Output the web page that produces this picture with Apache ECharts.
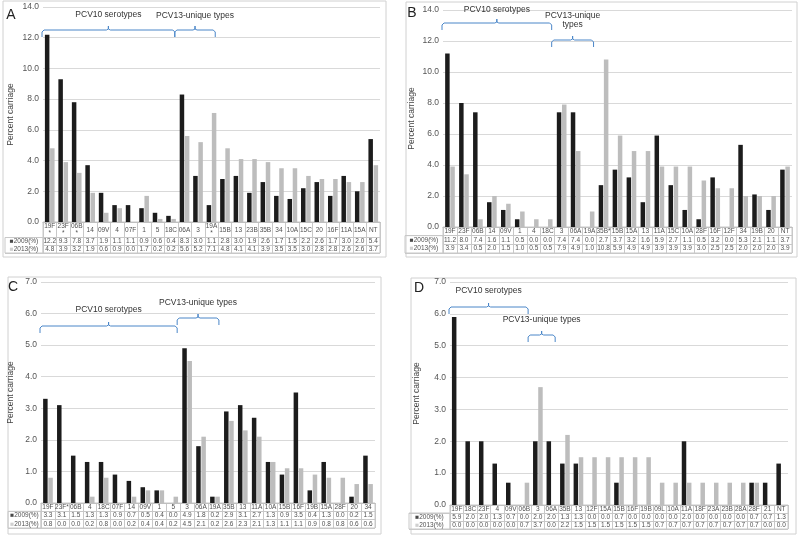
<!DOCTYPE html>
<html><head><meta charset="utf-8">
<script src="https://cdn.jsdelivr.net/npm/echarts@6/dist/echarts.min.js"></script>
<style>html,body{margin:0;padding:0;background:#fff}#c{width:800px;height:536px}</style>
</head><body><div id="c"></div>
<script>
const seriesNames = ['2009(%)', '2013(%)'];
const catsA = ['19F*','23F*','06B*','14','09V','4','07F','1','5','18C','06A','3','19A*','15B','13','23B','35B','34','10A','15C','20','16F','11A','15A','NT'];
const a2009 = [12.2,9.3,7.8,3.7,1.9,1.1,1.1,0.9,0.6,0.4,8.3,3.0,1.1,2.8,3.0,1.9,2.6,1.7,1.5,2.2,2.6,1.7,3.0,2.0,5.4];
const a2013 = [4.8,3.9,3.2,1.9,0.6,0.9,0.0,1.7,0.2,0.2,5.6,5.2,7.1,4.8,4.1,4.1,3.9,3.5,3.5,3.0,2.8,2.8,2.6,2.6,3.7];
const catsB = ['19F','23F','06B','14','09V','1','4','18C','3','06A','19A','35B*','15B','15A','13','11A','15C','10A','28F','16F','12F','34','19B','20','NT'];
const b2009 = [11.2,8.0,7.4,1.6,1.1,0.5,0.0,0.0,7.4,7.4,0.0,2.7,3.7,3.2,1.6,5.9,2.7,1.1,0.5,3.2,0.0,5.3,2.1,1.1,3.7];
const b2013 = [3.9,3.4,0.5,2.0,1.5,1.0,0.5,0.5,7.9,4.9,1.0,10.8,5.9,4.9,4.9,3.9,3.9,3.9,3.0,2.5,2.5,2.0,2.0,2.0,3.9];
const catsC = ['19F','23F*','06B','4','18C','07F','14','09V','1','5','3','06A','19A','35B','13','11A','10A','15B','16F','19B','15A','28F','20','34'];
const c2009 = [3.3,3.1,1.5,1.3,1.3,0.9,0.7,0.5,0.4,0.0,4.9,1.8,0.2,2.9,3.1,2.7,1.3,0.9,3.5,0.4,1.3,0.0,0.2,1.5];
const c2013 = [0.8,0.0,0.0,0.2,0.8,0.0,0.2,0.4,0.4,0.2,4.5,2.1,0.2,2.6,2.3,2.1,1.3,1.1,1.1,0.9,0.8,0.8,0.6,0.6];
const catsD = ['19F','18C','23F','4','09V','06B','3','06A','35B','13','12F','15A','15B','16F','19B','09L','10A','11A','18F','23A','23B','28A','28F','21','NT'];
const d2009 = [5.9,2.0,2.0,1.3,0.7,0.0,2.0,2.0,1.3,1.3,0.0,0.0,0.7,0.0,0.0,0.0,0.0,2.0,0.0,0.0,0.0,0.0,0.7,0.7,1.3];
const d2013 = [0.0,0.0,0.0,0.0,0.0,0.7,3.7,0.0,2.2,1.5,1.5,1.5,1.5,1.5,1.5,0.7,0.7,0.7,0.7,0.7,0.7,0.7,0.7,0.0,0.0];
const braceText10 = 'PCV10 serotypes';
const braceText13 = 'PCV13-unique types';

const FONT = '"Liberation Sans", Arial, Helvetica, sans-serif';
const panels = [
  {key:'A', cats:catsA, v09:a2009, v13:a2013, max:14, step:2, star:true,
   box:[3,1,383,256], plot:{left:43,top:7,width:337,height:215}, tableH:31, labW:38, nameGap:28, letter:[11,15],
   braces:[{from:0,to:9,y:30,ty:15,text:braceText10},{from:10,to:12,y:30,ty:16,text:braceText13}]},
  {key:'B', cats:catsB, v09:b2009, v13:b2013, max:14, step:2, star:false,
   box:[406,2,391,255], plot:{left:443,top:10,width:349,height:217}, tableH:26, labW:38, nameGap:27, letter:[412,13],
   braces:[{from:0,to:7,y:23,ty:10,text:braceText10},{from:8,to:10,y:40,ty:20,text:'PCV13-unique\ntypes'}]},
  {key:'C', cats:catsC, v09:c2009, v13:c2013, max:7, step:1, star:false,
   box:[8,277,373,257], plot:{left:41,top:282,width:334,height:221}, tableH:25, labW:33, nameGap:26, letter:[13,287],
   braces:[{from:0,to:9,y:326,ty:310,text:braceText10},{from:10,to:12,y:318,ty:303,text:braceText13}]},
  {key:'D', cats:catsD, v09:d2009, v13:d2013, max:7, step:1, star:false,
   box:[411,278,385,256], plot:{left:450,top:282,width:338,height:223}, tableH:24, labW:41, nameGap:29, letter:[419,288],
   braces:[{from:0,to:5,y:307,ty:291,text:braceText10},{from:6,to:7,y:335,ty:320,text:braceText13}]}
];

const chart = echarts.init(document.getElementById('c'), null, {renderer:'canvas'});
const grid=[], xAxis=[], yAxis=[], series=[];
const BORDER = '#c8c8c8';
panels.forEach(p=>{
  const rows = p.star ? ['c1','c2','a','b'] : ['c1','a','b'];
  const rowH = p.tableH / rows.length;
  const zeroY = p.plot.top + p.plot.height;
  const gPlot = grid.length;
  grid.push({left:p.plot.left, top:p.plot.top, width:p.plot.width, height:p.plot.height});
  const gTab = grid.length;
  grid.push({left:p.plot.left, top:zeroY, width:p.plot.width, height:p.tableH, show:true, borderColor:BORDER, borderWidth:1});
  const gLab = grid.length;
  grid.push({left:p.plot.left-p.labW, top:zeroY + rowH*(rows.length-2), width:p.labW, height:rowH*2, show:true, borderColor:BORDER, borderWidth:1});
  p.xPlot = xAxis.length;
  xAxis.push({gridIndex:gPlot, type:'category', data:p.cats, axisLine:{lineStyle:{color:'#bfbfbf'}}, axisTick:{show:false}, axisLabel:{show:false}});
  const xTab = xAxis.length;
  xAxis.push({gridIndex:gTab, type:'category', data:p.cats, axisLine:{show:false}, axisTick:{show:false}, axisLabel:{show:false}, splitLine:{show:true, interval:0, lineStyle:{color:BORDER}}});
  const xLab = xAxis.length;
  xAxis.push({gridIndex:gLab, type:'category', data:['L'], axisLine:{show:false}, axisTick:{show:false}, axisLabel:{show:false}});
  const yPlot = yAxis.length;
  yAxis.push({gridIndex:gPlot, type:'value', min:0, max:p.max, interval:p.step,
    name:'Percent carriage', nameLocation:'middle', nameGap:p.nameGap, nameRotate:90,
    nameTextStyle:{fontSize:8.5,color:'#444',fontFamily:FONT},
    axisLine:{show:false}, axisTick:{show:false},
    axisLabel:{formatter:v=>v.toFixed(1), fontSize:8.5, color:'#555', fontFamily:FONT, margin:4},
    splitLine:{lineStyle:{color:'#d9d9d9'}}});
  const yTab = yAxis.length;
  yAxis.push({gridIndex:gTab, type:'category', data:rows, inverse:true, axisLine:{show:false}, axisTick:{show:false}, axisLabel:{show:false},
    splitLine:{show:true, interval:(idx)=> !(p.star && idx===1), lineStyle:{color:BORDER}}});
  const yLab = yAxis.length;
  yAxis.push({gridIndex:gLab, type:'category', data:['a','b'], inverse:true, axisLine:{show:false}, axisTick:{show:false}, axisLabel:{show:false},
    splitLine:{show:true, lineStyle:{color:BORDER}}});

  series.push({type:'bar', name:seriesNames[0], xAxisIndex:p.xPlot, yAxisIndex:yPlot, data:p.v09, barWidth:4.5, barGap:'15%', itemStyle:{color:'#1c1c1c'}, silent:true});
  series.push({type:'bar', name:seriesNames[1], xAxisIndex:p.xPlot, yAxisIndex:yPlot, data:p.v13, barWidth:4.5, barGap:'15%', itemStyle:{color:'#bdbdbd'}, silent:true});

  const cells=[];
  const r09 = rows.length-2, r13 = rows.length-1;
  p.cats.forEach((c,j)=>{
    const txt = p.star ? c.replace('*','\n*') : c;
    cells.push({value:[j,0,txt], label:{offset:[0, p.star ? rowH/2 : 0]}});
    cells.push({value:[j,r09,p.v09[j].toFixed(1)]});
    cells.push({value:[j,r13,p.v13[j].toFixed(1)]});
  });
  series.push({type:'scatter', xAxisIndex:xTab, yAxisIndex:yTab, data:cells, symbolSize:1, itemStyle:{color:'rgba(0,0,0,0)'}, silent:true,
    label:{show:true, position:'inside', fontSize:6.5, lineHeight:7, color:'#222', fontFamily:FONT, formatter:q=>q.value[2]}});
  series.push({type:'scatter', xAxisIndex:xLab, yAxisIndex:yLab, symbolSize:1, itemStyle:{color:'rgba(0,0,0,0)'}, silent:true,
    data:[[0,0,seriesNames[0]],[0,1,seriesNames[1]]],
    label:{show:true, position:'inside', fontSize:6.5, color:'#222', fontFamily:FONT,
      formatter:q=>(q.value[1]===0?'{k|■}':'{g|■}')+q.value[2],
      rich:{k:{color:'#1c1c1c',fontSize:6.5},g:{color:'#c4c4c4',fontSize:6.5}}}});
});

chart.setOption({animation:false, grid, xAxis, yAxis, series});

const graphic=[];
const BLUE='#4a86c8';
panels.forEach(p=>{
  graphic.push({type:'rect', silent:true, z:-10, shape:{x:p.box[0],y:p.box[1],width:p.box[2],height:p.box[3]}, style:{fill:null, stroke:'#d0d0d0', lineWidth:1}});
  graphic.push({type:'text', silent:true, x:p.letter[0], y:p.letter[1], style:{text:p.key, fontSize:14, fontFamily:FONT, fill:'#222', align:'center', verticalAlign:'middle'}});
  const c0 = chart.convertToPixel({xAxisIndex:p.xPlot}, 0);
  const c1 = chart.convertToPixel({xAxisIndex:p.xPlot}, 1);
  const bw = c1 - c0;
  const edge = k => c0 - bw/2 + bw*k;
  p.braces.forEach(b=>{
    const x1 = edge(b.from) - (b.from>0 ? 3 : 1);
    const x2 = edge(b.to+1) - 3;
    const xc = (x1+x2)/2, y=b.y;
    graphic.push({type:'polyline', silent:true, shape:{points:[
      [x1,y+7],[x1,y+2],[x1+2,y],[xc-2,y],[xc,y-1],[xc,y-4],[xc,y-1],[xc+2,y],[x2-2,y],[x2,y+2],[x2,y+7]
    ]}, style:{stroke:BLUE, fill:null, lineWidth:1}});
    graphic.push({type:'text', silent:true, x:xc, y:b.ty, style:{text:b.text, fontSize:8.5, lineHeight:9, fontFamily:FONT, fill:'#333', align:'center', verticalAlign:'middle'}});
  });
});
chart.setOption({graphic});
</script>
</body></html>
